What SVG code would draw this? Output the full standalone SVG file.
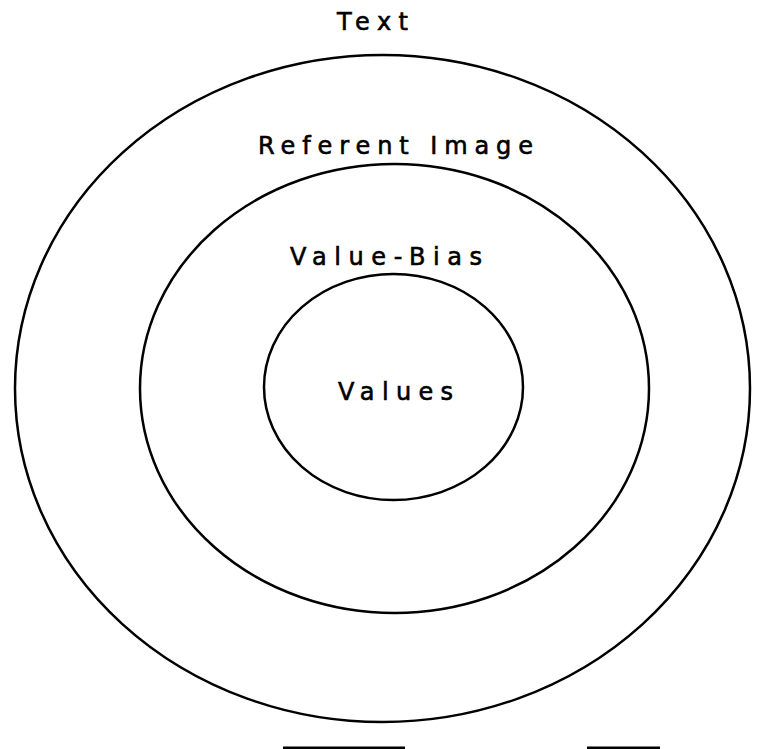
<svg xmlns="http://www.w3.org/2000/svg" width="763" height="749" viewBox="0 0 763 749">
<style>
.ring{fill:none;stroke:#000;stroke-width:2.5}
.lbl{font-family:"DejaVu Sans","Liberation Sans",sans-serif;font-size:24px;fill:#000;stroke:#000;stroke-width:0.6}
.frag{stroke:#000;stroke-width:3}
</style>
<rect width="763" height="749" fill="#fff"/>
<g id="outer">
<ellipse class="ring" cx="382.5" cy="388.5" rx="367.5" ry="333.5"/>
<text class="lbl" x="337" y="30" textLength="71" lengthAdjust="spacing">Text</text>
</g>
<g id="middle">
<ellipse class="ring" cx="394.5" cy="388.5" rx="254.5" ry="224.5"/>
<text class="lbl" x="258" y="154" textLength="275" lengthAdjust="spacing">Referent Image</text>
</g>
<g id="valuebias">
<ellipse class="ring" cx="393.5" cy="387" rx="129.5" ry="113"/>
<text class="lbl" x="290" y="265" textLength="192" lengthAdjust="spacing">Value-Bias</text>
</g>
<g id="values">
<text class="lbl" x="338" y="400" textLength="115" lengthAdjust="spacing">Values</text>
</g>
<g id="fragments">
<line class="frag" x1="283" y1="748" x2="405" y2="748"/>
<line class="frag" x1="587" y1="748" x2="660" y2="748"/>
</g>
</svg>
